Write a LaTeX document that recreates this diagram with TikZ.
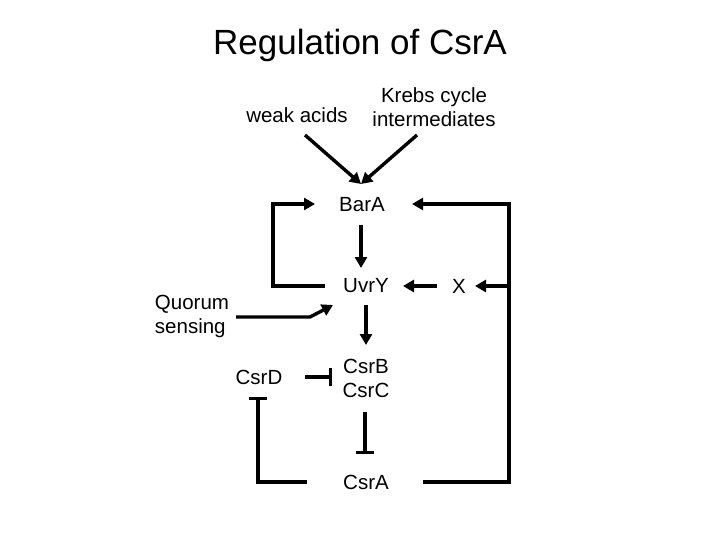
\documentclass[tikz,border=0pt]{standalone}
\usepackage{fontspec}
\setmainfont{Liberation Sans}
\usetikzlibrary{arrows.meta}
\begin{document}
\begin{tikzpicture}[x=1pt,y=-1pt,
  lbl/.style={font=\fontsize{20.5}{24}\selectfont,align=center,inner sep=0pt},
  ln/.style={line width=3.4pt},
  act/.style={ln,-{Triangle[length=11pt,width=12pt]}},
  inh/.style={ln,-{Bar[width=18pt]}}]
\useasboundingbox (0,0) rectangle (720,540);
\node[font=\fontsize{35}{40}\selectfont,inner sep=0pt] (title) at (360,45) {Regulation of CsrA};
\node[lbl] (weak) at (297,115) {weak acids};
\node[lbl] (krebs) at (434,107) {Krebs cycle\\intermediates};
\node[lbl] (bara) at (362,205) {BarA};
\node[lbl] (uvry) at (366,286) {UvrY};
\node[lbl] (x) at (459,286) {X};
\node[lbl,align=left] (quorum) at (192,316) {Quorum\\sensing};
\node[lbl] (csrd) at (259,377) {CsrD};
\node[lbl] (csrbc) at (366,378) {CsrB\\CsrC};
\node[lbl] (csra) at (366,482) {CsrA};
\coordinate (t1) at (361,184);
\draw[act] (305,135) -- (t1);
\draw[act] (417,135) -- (t1);
\draw[act] (361,225) -- (361,268);
\draw[act] (325,286) -- (273,286) -- (273,204) -- (315,204);
\draw[ln] (423,482) -- (509,482) -- (509,204);
\draw[act] (510.7,204) -- (412,204);
\draw[act] (510.7,286) -- (475,286);
\draw[act] (x) ++(-22,0) -- (403,286);
\draw[act] (236,317) -- (310,317) -- (333,305);
\draw[act] (366,305) -- (366,345);
\draw[inh] (305,377) -- (332,377);
\draw[inh] (365,412) -- (365,454);
\draw[inh] (307,482) -- (258,482) -- (258,397);
\end{tikzpicture}
\end{document}
